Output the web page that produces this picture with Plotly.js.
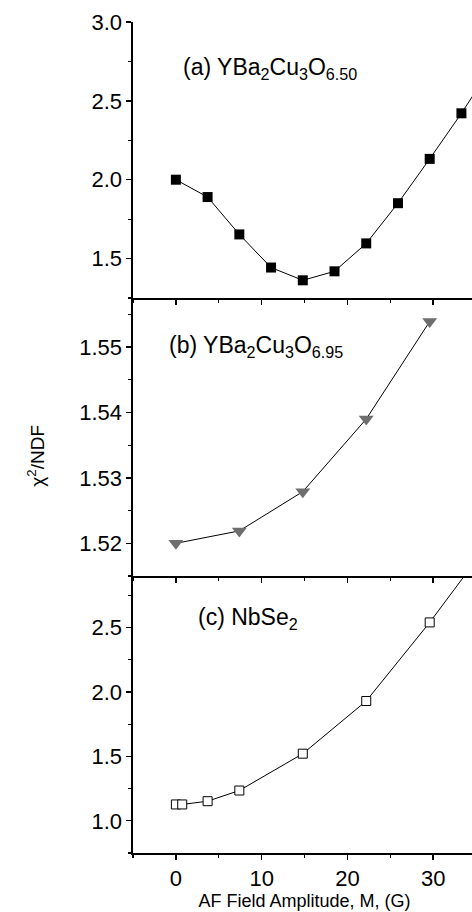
<!DOCTYPE html>
<html>
<head>
<meta charset="utf-8">
<script src="https://cdn.plot.ly/plotly-3.0.1.min.js"></script>
<style>
html, body { margin: 0; padding: 0; width: 472px; height: 912px; overflow: hidden; background: #fff; }
#chart { width: 492px; height: 912px; }
</style>
</head>
<body>
<div id="chart"></div>
<script>
// AF field amplitude M (G) and chi^2/NDF for each sample
const mA = [0, 3.7, 7.4, 11.1, 14.8, 18.5, 22.2, 25.9, 29.6, 33.3, 37.0];
const chiA = [2.00, 1.89, 1.653, 1.443, 1.362, 1.419, 1.596, 1.851, 2.132, 2.421, 2.73];

const mB = [0, 7.4, 14.8, 22.2, 29.6];
const chiB = [1.5200, 1.5219, 1.5279, 1.5390, 1.5539];

const mC = [0, 0.74, 3.7, 7.4, 14.8, 22.2, 29.6, 37.0];
const chiC = [1.127, 1.127, 1.152, 1.235, 1.521, 1.93, 2.54, 3.2];

const xTickVals = [0, 10, 20, 30];
const labelA = "(a) YBa<sub>2</sub>Cu<sub>3</sub>O<sub>6.50</sub>";
const labelB = "(b) YBa<sub>2</sub>Cu<sub>3</sub>O<sub>6.95</sub>";
const labelC = "(c) NbSe<sub>2</sub>";
const xTitle = "AF Field Amplitude, M, (G)";
const yTitle = "χ<sup>2</sup>/NDF";

const FONT = "Liberation Sans, Arial, sans-serif";
const XR = [-5, 35];
const domA = [0.6679, 1], domB = [0.3333, 0.6679], domC = [0, 0.3333];
const LW = 1.6;

const traces = [
  { x: mA, y: chiA, xaxis: 'x', yaxis: 'y', mode: 'lines+markers',
    line: { color: '#000', width: 1 },
    marker: { symbol: 'square', size: 10, color: '#000' } },
  { x: mB, y: chiB, xaxis: 'x2', yaxis: 'y2', mode: 'lines+markers',
    line: { color: '#000', width: 1 },
    marker: { symbol: 'triangle-down', size: 13, color: '#6e6e6e', line: { color: '#6e6e6e', width: 0 } } },
  { x: mC, y: chiC, xaxis: 'x3', yaxis: 'y3', mode: 'lines+markers',
    line: { color: '#000', width: 1 },
    marker: { symbol: 'square', size: 9, color: '#fff', line: { color: '#000', width: 1 } } }
];

function xax(anchor, labels, extra) {
  return Object.assign({
    range: XR, anchor: anchor, showgrid: false, zeroline: false,
    showline: true, linecolor: '#000', linewidth: LW,
    ticks: 'outside', ticklen: 5, tickwidth: 1.4, tickcolor: '#000',
    tickmode: 'array', tickvals: xTickVals, showticklabels: labels,
    tickfont: { family: FONT, size: 22, color: '#000' },
    minor: { ticks: 'outside', ticklen: 3, tickwidth: 1.2, tickcolor: '#000', dtick: 5, tick0: 0, showgrid: false }
  }, extra || {});
}
function yax(anchor, dom, range, dtick, tick0, mdtick, fmt, extra) {
  return Object.assign({
    domain: dom, range: range, anchor: anchor, showgrid: false, zeroline: false,
    showline: true, linecolor: '#000', linewidth: LW, mirror: true,
    ticks: 'outside', ticklen: 5, tickwidth: 1.4, tickcolor: '#000',
    dtick: dtick, tick0: tick0, tickformat: fmt,
    tickfont: { family: FONT, size: 22, color: '#000' },
    minor: { ticks: 'outside', ticklen: 3, tickwidth: 1.2, tickcolor: '#000', dtick: mdtick, tick0: tick0, showgrid: false }
  }, extra || {});
}
function yRight(over, anchor, range, dtick, tick0, mdtick) {
  return {
    overlaying: over, side: 'right', anchor: anchor, range: range,
    showgrid: false, zeroline: false, showline: false,
    ticks: 'inside', ticklen: 5, tickwidth: 1.4, tickcolor: '#000',
    dtick: dtick, tick0: tick0, showticklabels: false,
    minor: { ticks: 'inside', ticklen: 3, tickwidth: 1.2, tickcolor: '#000', dtick: mdtick, tick0: tick0, showgrid: false }
  };
}

const rA = [1.25, 3.0], rB = [1.515, 1.5575], rC = [0.75, 2.9];

const layout = {
  width: 492, height: 912,
  margin: { l: 133, r: 16, t: 22, b: 59 },
  paper_bgcolor: '#fff', plot_bgcolor: '#fff',
  showlegend: false,
  font: { family: FONT, color: '#000' },
  xaxis: xax('y', false),
  xaxis2: xax('y2', false),
  xaxis3: xax('y3', true, {
    title: { text: xTitle, font: { family: FONT, size: 18, color: '#000' }, standoff: 2 }
  }),
  xaxis4: {
    overlaying: 'x', side: 'top', anchor: 'y', range: XR,
    showgrid: false, zeroline: false, showline: true, linecolor: '#000', linewidth: LW,
    ticks: 'inside', ticklen: 5, tickwidth: 1.4, tickcolor: '#000',
    tickmode: 'array', tickvals: xTickVals, showticklabels: false,
    minor: { ticks: 'inside', ticklen: 3, tickwidth: 1.2, tickcolor: '#000', dtick: 5, tick0: 0, showgrid: false }
  },
  yaxis: yax('x', domA, rA, 0.5, 1.5, 0.25, '.1f'),
  yaxis2: yax('x2', domB, rB, 0.01, 1.52, 0.005, '.2f'),
  yaxis3: yax('x3', domC, rC, 0.5, 1.0, 0.25, '.1f'),
  yaxis4: yRight('y', 'x', rA, 0.5, 1.5, 0.25),
  yaxis5: yRight('y2', 'x2', rB, 0.01, 1.52, 0.005),
  yaxis6: yRight('y3', 'x3', rC, 0.5, 1.0, 0.25),
  annotations: [
    { text: labelA, xref: 'x domain', yref: 'y domain', x: 0.14, y: 0.83, xanchor: 'left', yanchor: 'middle',
      showarrow: false, font: { family: FONT, size: 23, color: '#000' } },
    { text: labelB, xref: 'x2 domain', yref: 'y2 domain', x: 0.10, y: 0.825, xanchor: 'left', yanchor: 'middle',
      showarrow: false, font: { family: FONT, size: 23, color: '#000' } },
    { text: labelC, xref: 'x3 domain', yref: 'y3 domain', x: 0.185, y: 0.845, xanchor: 'left', yanchor: 'middle',
      showarrow: false, font: { family: FONT, size: 23, color: '#000' } },
    { text: yTitle, xref: 'paper', yref: 'paper', x: -0.283, y: 0.478, xanchor: 'center', yanchor: 'middle',
      textangle: -90, showarrow: false, font: { family: FONT, size: 19, color: '#000' } }
  ]
};

Plotly.newPlot('chart', traces, layout, { staticPlot: true, displayModeBar: false });
</script>
</body>
</html>
